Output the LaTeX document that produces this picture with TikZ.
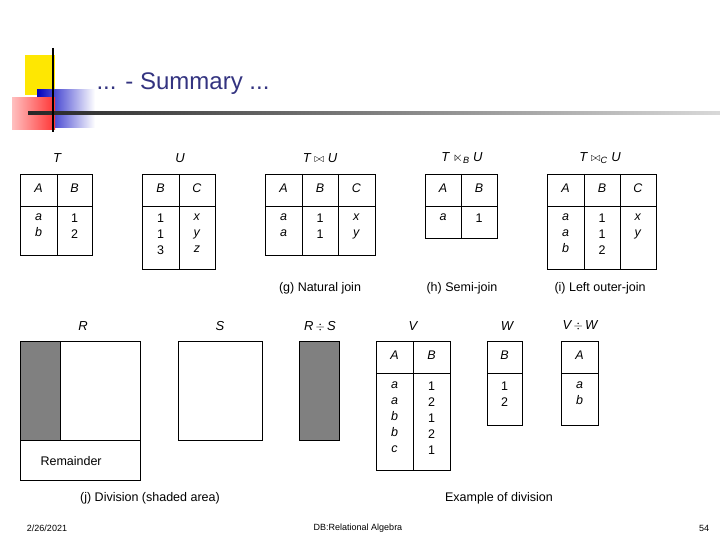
\documentclass[tikz,border=0pt]{standalone}
\usepackage{amsmath}
\usepackage{amssymb}
\usepackage{fontspec}
\setmainfont{Liberation Sans}
\usetikzlibrary{positioning,calc}
\definecolor{titleblue}{RGB}{51,51,128}
\definecolor{divgrey}{RGB}{128,128,128}

\begin{document}
\begin{tikzpicture}[x=1pt,y=-1pt,
    tbl/.style={draw, line width=0.9pt},
    cell/.style={font=\fontsize{12.5}{16}\selectfont, align=center, anchor=north, inner sep=0pt},
    rel/.style={font=\fontsize{13}{15}\selectfont\itshape},
    caption/.style={font=\fontsize{12.5}{15}\selectfont}
]
    \useasboundingbox (0,0) rectangle (720,540);

    % --- Logo and title ---
    \fill[yellow!90!orange] (25,55) rectangle (55,95);
    \shade[left color=blue!75!black, right color=white] (37,90) rectangle (95,128);
    \shade[left color=red!25, right color=red!80] (12,98) rectangle (55,130);
    \shade[left color=black!85, right color=black!15] (28,112) rectangle (720,114.5);
    \draw[line width=2.5pt] (53,48) -- (53,132);
    \node[font=\fontsize{24}{28}\selectfont, text=titleblue, anchor=west] (title) at (93,84) {... - Summary ...};

    % --- Top tables ---
    % T
    \draw[tbl] (20,174) rectangle (92,255) (57,174) -- (57,255) (20,206) -- (92,206);
    \node[rel] (t-name) at (57,158) {T};
    \node[cell] (t-a) at (38.5,184) {\textit{A}};
    \node[cell] (t-b) at (74.5,184) {\textit{B}};
    \node[cell] (t-c1) at (38.5,214) {\textit{a}\\\textit{b}};
    \node[cell] (t-c2) at (74.5,214) {1\\2};

    % U
    \draw[tbl] (142,174) rectangle (215,269) (179,174) -- (179,269) (142,206) -- (215,206);
    \node[rel] (u-name) at (180,158) {U};
    \node[cell] (u-b) at (160.5,184) {\textit{B}};
    \node[cell] (u-c) at (197,184) {\textit{C}};
    \node[cell] (u-c1) at (160.5,214) {1\\1\\3};
    \node[cell] (u-c2) at (197,214) {\textit{x}\\\textit{y}\\\textit{z}};

    % natural join
    \draw[tbl] (265,174) rectangle (375,255) (302,174) -- (302,255) (338,174) -- (338,255) (265,206) -- (375,206);
    \node[rel] (nj-name) at (320,158) {T $\bowtie$ U};
    \node[cell] (nj-a) at (283.5,184) {\textit{A}};
    \node[cell] (nj-b) at (320,184) {\textit{B}};
    \node[cell] (nj-c) at (356.5,184) {\textit{C}};
    \node[cell] (nj-c1) at (283.5,214) {\textit{a}\\\textit{a}};
    \node[cell] (nj-c2) at (320,214) {1\\1};
    \node[cell] (nj-c3) at (356.5,214) {\textit{x}\\\textit{y}};
    \node[caption] (cap-g) at (320,288) {(g) Natural join};

    % semi-join
    \draw[tbl] (425,174) rectangle (497,238) (461,174) -- (461,238) (425,206) -- (497,206);
    \node[rel] (sj-name) at (462,158) {T $\ltimes_{\text{B}}$ U};
    \node[cell] (sj-a) at (443,184) {\textit{A}};
    \node[cell] (sj-b) at (479,184) {\textit{B}};
    \node[cell] (sj-c1) at (443,214) {\textit{a}};
    \node[cell] (sj-c2) at (479,214) {1};
    \node[caption] (cap-h) at (462,288) {(h) Semi-join};

    % left outer-join
    \draw[tbl] (547,174) rectangle (656,269) (584,174) -- (584,269) (620,174) -- (620,269) (547,206) -- (656,206);
    \node[rel] (lo-name) at (600,158) {T $\bowtie_{\text{C}}$ U};
    \node[cell] (lo-a) at (565.5,184) {\textit{A}};
    \node[cell] (lo-b) at (602,184) {\textit{B}};
    \node[cell] (lo-c) at (638,184) {\textit{C}};
    \node[cell] (lo-c1) at (565.5,214) {\textit{a}\\\textit{a}\\\textit{b}};
    \node[cell] (lo-c2) at (602,214) {1\\1\\2};
    \node[cell] (lo-c3) at (638,214) {\textit{x}\\\textit{y}};
    \node[caption] (cap-i) at (600,288) {(i) Left outer-join};

    % --- Division ---
    % R
    \fill[divgrey] (20,341) rectangle (60,440);
    \draw[tbl] (20,341) rectangle (140,480) (60,341) -- (60,440) (20,440) -- (140,440);
    \node[rel] (r-name) at (83,326) {R};
    \node[caption, anchor=west] (remainder) at (37,461) {Remainder};
    % S
    \draw[tbl] (178,341) rectangle (262,440);
    \node[rel] (s-name) at (220,326) {S};
    % R / S
    \draw[tbl, fill=divgrey] (299,341) rectangle (339,440);
    \node[rel] (rs-name) at (320,326) {R\,$\div$\,S};
    \node[caption] (cap-j) at (150,498) {(j) Division (shaded area)};

    % V
    \draw[tbl] (376,341) rectangle (450,470) (413,341) -- (413,470) (376,373) -- (450,373);
    \node[rel] (v-name) at (413,326) {V};
    \node[cell] (v-a) at (394.5,351) {\textit{A}};
    \node[cell] (v-b) at (431.5,351) {\textit{B}};
    \node[cell] (v-c1) at (394.5,382) {\textit{a}\\\textit{a}\\\textit{b}\\\textit{b}\\\textit{c}};
    \node[cell] (v-c2) at (431.5,382) {1\\2\\1\\2\\1};
    % W
    \draw[tbl] (487,341) rectangle (522,425) (487,373) -- (522,373);
    \node[rel] (w-name) at (507,326) {W};
    \node[cell] (w-b) at (504.5,351) {\textit{B}};
    \node[cell] (w-c1) at (504.5,382) {1\\2};
    % V / W
    \draw[tbl] (561,341) rectangle (598,425) (561,373) -- (598,373);
    \node[rel] (vw-name) at (580,326) {V\,$\div$\,W};
    \node[cell] (vw-a) at (579.5,351) {\textit{A}};
    \node[cell] (vw-c1) at (579.5,382) {\textit{a}\\\textit{b}};
    \node[caption] (cap-div) at (499,498) {Example of division};

    % --- Footer ---
    \node[font=\fontsize{9}{11}\selectfont] (date) at (47,528) {2/26/2021};
    \node[font=\fontsize{9}{11}\selectfont] (course) at (358,528) {DB:Relational Algebra};
    \node[font=\fontsize{9}{11}\selectfont] (page) at (704,528) {54};
\end{tikzpicture}
\end{document}
